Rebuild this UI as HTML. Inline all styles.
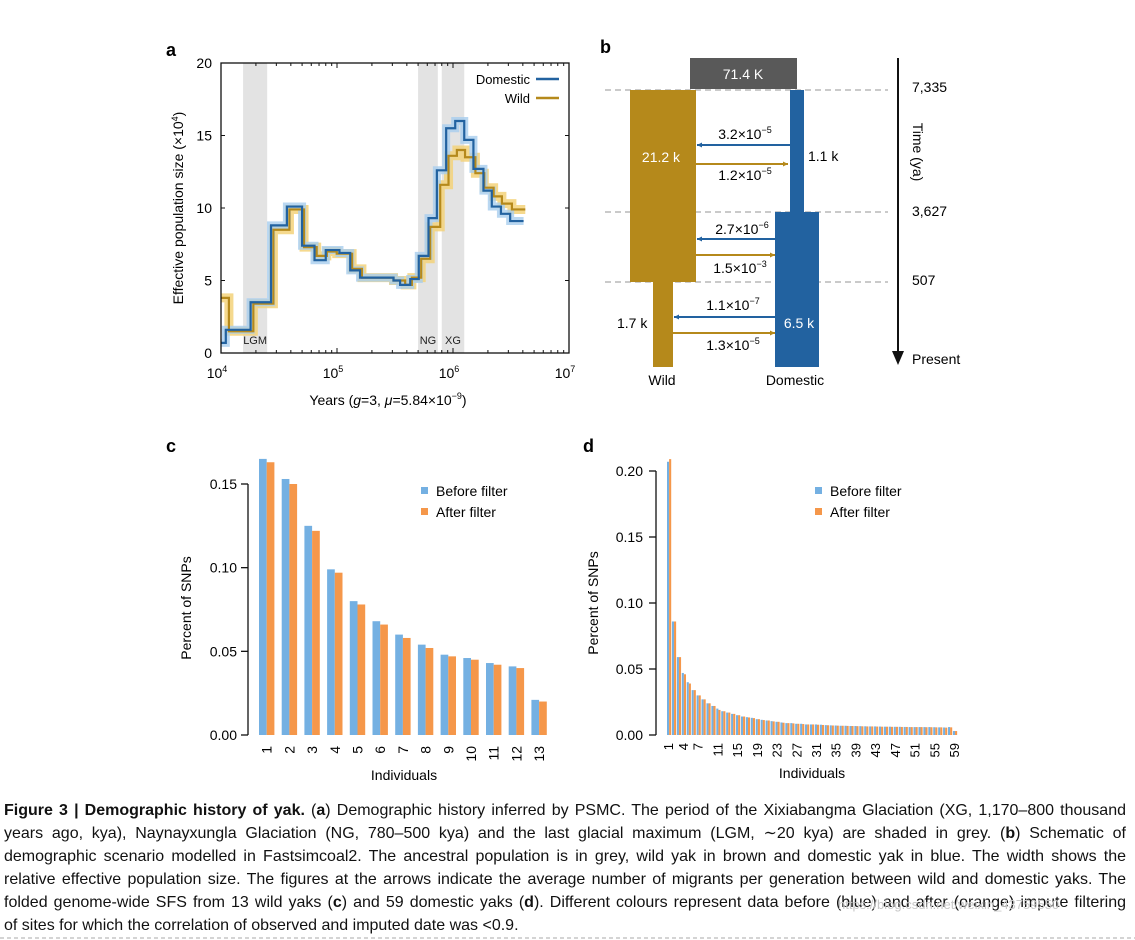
<!DOCTYPE html>
<html><head><meta charset="utf-8"><style>
body{margin:0;background:#fff;width:1135px;height:940px;overflow:hidden;position:relative;font-family:"Liberation Sans",sans-serif}
svg{position:absolute;left:0;top:0}
.cap{position:absolute;left:4px;width:1122px;font-size:16px;color:#111;text-align:justify;text-align-last:justify;white-space:nowrap;line-height:20px}
.cap.last{text-align-last:left}
</style></head><body>
<svg id="svg" width="1135" height="940" xmlns="http://www.w3.org/2000/svg" font-family="Liberation Sans, sans-serif">
<g id="pa"></g>
<g id="pb"></g>
<g id="pc"></g>
<g id="pd"></g>
<line x1="0" y1="938" x2="1135" y2="938" stroke="#aaa" stroke-dasharray="4,3"/>
</svg>
<div class="cap" style="top:801px"><b>Figure 3 | Demographic history of yak.</b> (<b>a</b>) Demographic history inferred by PSMC. The period of the Xixiabangma Glaciation (XG, 1,170–800 thousand</div>
<div class="cap" style="top:824px">years ago, kya), Naynayxungla Glaciation (NG, 780–500 kya) and the last glacial maximum (LGM, ∼20 kya) are shaded in grey. (<b>b</b>) Schematic of</div>
<div class="cap" style="top:847px">demographic scenario modelled in Fastsimcoal2. The ancestral population is in grey, wild yak in brown and domestic yak in blue. The width shows the</div>
<div class="cap" style="top:870px">relative effective population size. The figures at the arrows indicate the average number of migrants per generation between wild and domestic yaks. The</div>
<div class="cap" style="top:893px">folded genome-wide SFS from 13 wild yaks (<b>c</b>) and 59 domestic yaks (<b>d</b>). Different colours represent data before (blue) and after (orange) impute filtering</div>
<div class="cap last" style="top:916px">of sites for which the correlation of observed and imputed date was &lt;0.9.</div>
<div style="position:absolute;left:838px;top:897px;font-size:13px;color:#c8c8c8">https://blog.csdn.net/weixin_43759550</div>
<script>
const NS='http://www.w3.org/2000/svg';
// ---- Panel a data ----
const domYears=[10000,11000,18000,27000,37000,50000,64000,80000,105000,130000,158000,307000,350000,428000,507000,615000,726000,873000,1045000,1250000,1500000,1830000,2160000,2590000,3110000,4060000];
const domNe=[0.7,1.6,3.5,8.8,10.1,7.4,6.4,7.1,6.9,5.7,5.2,5.0,4.7,5.1,6.7,9.3,12.6,15.5,16.0,14.7,12.7,11.2,10.1,9.6,9.1];
const wildYears=[10000,11700,19000,28300,38900,52000,66800,81700,99500,135000,164000,307000,387000,442000,532000,636000,776000,915000,1080000,1270000,1560000,1860000,2240000,2640000,3220000,4200000];
const wildNe=[3.8,1.5,3.4,8.5,9.9,7.3,6.7,7.0,6.85,5.8,5.2,5.0,4.7,5.2,6.5,8.7,11.6,13.6,14.0,13.5,12.4,11.4,10.8,10.3,9.9];
const shadeStart=[15500,500000,800000];
const shadeEnd=[25000,740000,1250000];
const shadeLabels=['LGM','NG','XG'];
const aYTicks=[0,5,10,15,20];
const aXTicks=[4,5,6,7];
// ---- Panel c data ----
const cCats=['1','2','3','4','5','6','7','8','9','10','11','12','13'];
const cBefore=[0.165,0.153,0.125,0.099,0.080,0.068,0.060,0.054,0.048,0.046,0.043,0.041,0.021];
const cAfter=[0.163,0.150,0.122,0.097,0.078,0.066,0.058,0.052,0.047,0.045,0.042,0.040,0.020];
const cTicks=[0,0.05,0.10,0.15];
// ---- Panel d data ----
const dBefore=[0.207,0.086,0.059,0.047,0.040,0.034,0.030,0.027,0.024,0.022,0.020,0.018,0.017,0.016,0.015,0.014,0.0135,0.013,0.012,0.0115,0.011,0.0105,0.010,0.0095,0.009,0.009,0.0085,0.0085,0.008,0.008,0.008,0.0078,0.0075,0.0073,0.0072,0.007,0.007,0.0068,0.0068,0.0067,0.0066,0.0065,0.0065,0.0064,0.0063,0.0063,0.0062,0.0062,0.0061,0.006,0.006,0.006,0.006,0.006,0.0059,0.0058,0.0057,0.006,0.003];
const dAfter=[0.209,0.086,0.059,0.046,0.039,0.034,0.030,0.027,0.024,0.022,0.019,0.018,0.017,0.016,0.015,0.014,0.0133,0.0128,0.012,0.0113,0.011,0.0103,0.010,0.0093,0.009,0.0088,0.0085,0.0083,0.008,0.008,0.0078,0.0076,0.0074,0.0072,0.0071,0.007,0.0069,0.0068,0.0067,0.0066,0.0065,0.0065,0.0064,0.0063,0.0063,0.0062,0.0062,0.0061,0.0061,0.006,0.006,0.006,0.0059,0.0059,0.0058,0.0058,0.0056,0.0058,0.003];
const dLabels=['1','4','7','11','15','19','23','27','31','35','39','43','47','51','55','59'];
const dTicks=[0,0.05,0.10,0.15,0.20];

function mk(parent,tag,attrs,text){const e=document.createElementNS(NS,tag);for(const k in attrs)e.setAttribute(k,attrs[k]);if(text!==undefined)e.textContent=text;parent.appendChild(e);return e;}
const BLUE='#2262a0',BROWN='#b5891b',LBLUE='#74b0e2',LORANGE='#f5974a';

// ===== Panel a =====
(function(){
const g=document.getElementById('pa');
const X0=221,X1=569,Y0=353,Y1=63;
const xs=y=>X0+(Math.log10(y)-4)/3*(X1-X0);
const ys=v=>Y0-v/20*(Y0-Y1);
mk(g,'text',{x:166,y:56,'font-size':18,'font-weight':'bold'},'a');
for(let i=0;i<shadeStart.length;i++){
 const r=mk(g,'rect',{x:xs(shadeStart[i]),y:Y1,width:xs(shadeEnd[i])-xs(shadeStart[i]),height:Y0-Y1,fill:'#e3e3e3'});
 
 
 const t=mk(g,'text',{x:(xs(shadeStart[i])+xs(shadeEnd[i]))/2,y:344,'font-size':11,'text-anchor':'middle',fill:'#222'},shadeLabels[i]);
 
 
}
function stepPath(yrs,ne){let d='M'+xs(yrs[0])+','+ys(ne[0]);for(let i=0;i<ne.length;i++){d+=' H'+xs(yrs[i+1]);if(i+1<ne.length)d+=' V'+ys(ne[i+1]);}return d;}
const wb=mk(g,'path',{d:stepPath(wildYears,wildNe),fill:'none',stroke:'#f3d27a','stroke-width':9,opacity:0.85});

const db=mk(g,'path',{d:stepPath(domYears,domNe),fill:'none',stroke:'#a8cdee','stroke-width':8,opacity:0.8});

const wl=mk(g,'path',{d:stepPath(wildYears,wildNe),fill:'none',stroke:BROWN,'stroke-width':2.2});

const dl=mk(g,'path',{d:stepPath(domYears,domNe),fill:'none',stroke:BLUE,'stroke-width':2.2});

const fr=mk(g,'rect',{x:X0,y:Y1,width:X1-X0,height:Y0-Y1,fill:'none',stroke:'#111','stroke-width':1.3});

aYTicks.forEach(v=>{
 mk(g,'line',{x1:X0,x2:X0+4,y1:ys(v),y2:ys(v),stroke:'#111'});
 mk(g,'line',{x1:X1,x2:X1-4,y1:ys(v),y2:ys(v),stroke:'#111'});
 const t=mk(g,'text',{x:212,y:ys(v)+5,'font-size':14,'text-anchor':'end'},String(v));
 
});
for(let dec=4;dec<7;dec++)for(let m=1;m<10;m++){const x=xs(m*Math.pow(10,dec));const L=m===1?5:3;
 mk(g,'line',{x1:x,x2:x,y1:Y0,y2:Y0-L,stroke:'#111'});mk(g,'line',{x1:x,x2:x,y1:Y1,y2:Y1+L,stroke:'#111'});}
aXTicks.forEach(p=>{
 const t=mk(g,'text',{x:xs(Math.pow(10,p))-4,y:378,'font-size':14,'text-anchor':'middle'});
 
 mk(t,'tspan',{},'10');mk(t,'tspan',{dy:-6,'font-size':9},String(p));
});
const yl=mk(g,'text',{transform:'translate(183,208) rotate(-90)','font-size':14,'text-anchor':'middle'});

mk(yl,'tspan',{},'Effective population size (×10');mk(yl,'tspan',{dy:-5,'font-size':9},'4');mk(yl,'tspan',{dy:5},')');
const xl=mk(g,'text',{x:388,y:405,'font-size':14,'text-anchor':'middle'});

mk(xl,'tspan',{},'Years (');mk(xl,'tspan',{'font-style':'italic'},'g');mk(xl,'tspan',{},'=3, ');mk(xl,'tspan',{'font-style':'italic'},'μ');mk(xl,'tspan',{},'=5.84×10');mk(xl,'tspan',{dy:-6,'font-size':9},'−9');mk(xl,'tspan',{dy:6},')');
const l1=mk(g,'text',{x:530,y:84,'font-size':13,'text-anchor':'end'},'Domestic');
mk(g,'line',{x1:536,x2:559,y1:79,y2:79,stroke:BLUE,'stroke-width':2.5});
const l2=mk(g,'text',{x:530,y:103,'font-size':13,'text-anchor':'end'},'Wild');
mk(g,'line',{x1:536,x2:559,y1:98,y2:98,stroke:BROWN,'stroke-width':2.5});
})();

// ===== Panel b =====
(function(){
const g=document.getElementById('pb');
const T=(x,y,s,o)=>{const t=mk(g,'text',Object.assign({x:x,y:y,'font-size':14},o||{}),s);return t;};
T(600,53,'b',{'font-size':18,'font-weight':'bold'});
const anc=mk(g,'rect',{x:690,y:58,width:107,height:31,fill:'#595959'});
T(743,79,'71.4 K',{fill:'#fff','text-anchor':'middle'});
[90,212,282].forEach(y=>mk(g,'line',{x1:605,x2:888,y1:y,y2:y,stroke:'#aaa','stroke-dasharray':'6,4','stroke-width':1.2}));
const w1=mk(g,'rect',{x:630,y:90,width:66,height:192,fill:BROWN});
const w2=mk(g,'rect',{x:653,y:282,width:20,height:85,fill:BROWN});
const d1=mk(g,'rect',{x:790,y:90,width:14,height:122,fill:BLUE});
const d2=mk(g,'rect',{x:775,y:212,width:44,height:155,fill:BLUE});
function arr(x1,x2,y,c){mk(g,'line',{x1:x1,x2:x2,y1:y,y2:y,stroke:c,'stroke-width':2});const d=x2<x1?1:-1;mk(g,'path',{d:`M${x2},${y} l${d*5},-2.5 v5 z`,fill:c});}
arr(790,697,145,BLUE);arr(696,788,164,BROWN);arr(775,697,239,BLUE);arr(696,775,255,BROWN);arr(775,674,317,BLUE);arr(673,775,333,BROWN);
function sci(x,y,m,e){const t=T(x,y,m+'×10',{'text-anchor':'middle'});mk(t,'tspan',{dy:-6,'font-size':9},'−'+e);}
sci(745,139,'3.2','5');sci(745,180,'1.2','5');sci(742,234,'2.7','6');sci(740,273,'1.5','3');sci(733,310,'1.1','7');sci(733,350,'1.3','5');
T(661,162,'21.2 k',{fill:'#fff','text-anchor':'middle'});
T(808,161,'1.1 k');T(617,328,'1.7 k');T(799,328,'6.5 k',{fill:'#fff','text-anchor':'middle'});
T(662,385,'Wild',{'text-anchor':'middle'});T(795,385,'Domestic',{'text-anchor':'middle'});
mk(g,'line',{x1:898,x2:898,y1:58,y2:352,stroke:'#111','stroke-width':2});
mk(g,'path',{d:'M892,351 L904,351 L898,365 z',fill:'#111'});
T(912,92,'7,335');T(912,216,'3,627');T(912,285,'507');T(912,364,'Present');
T(913,152,'Time (ya)',{transform:'rotate(90 913 152)','text-anchor':'middle'});
})();

// ===== Panel c =====
(function(){
const g=document.getElementById('pc');
const AX=248,Y0=735,S=(735-484)/0.15,X0=259,STEP=22.7,BW=7.7;
const ys=v=>Y0-v*S;
mk(g,'text',{x:166,y:452,'font-size':18,'font-weight':'bold'},'c');
for(let i=0;i<cCats.length;i++){
 const x=X0+i*STEP;
 const b=mk(g,'rect',{x:x,y:ys(cBefore[i]),width:BW,height:cBefore[i]*S,fill:LBLUE});
 
 const a=mk(g,'rect',{x:x+BW,y:ys(cAfter[i]),width:BW,height:cAfter[i]*S,fill:LORANGE});
 
 const t=mk(g,'text',{transform:`translate(${x+BW+5},746) rotate(-90)`,'font-size':14,'text-anchor':'end'},cCats[i]);
 
}
mk(g,'line',{x1:AX,x2:AX,y1:ys(cTicks[cTicks.length-1]),y2:Y0,stroke:'#111','stroke-width':1.3});
cTicks.forEach(v=>{mk(g,'line',{x1:AX-7,x2:AX,y1:ys(v),y2:ys(v),stroke:'#111','stroke-width':1.3});
 const t=mk(g,'text',{x:237,y:ys(v)+5,'font-size':14,'text-anchor':'end'},v.toFixed(2));});
const yl=mk(g,'text',{transform:'translate(191,608) rotate(-90)','font-size':14,'text-anchor':'middle'},'Percent of SNPs');
const xl=mk(g,'text',{x:404,y:780,'font-size':14,'text-anchor':'middle'},'Individuals');
mk(g,'rect',{x:421,y:487,width:7,height:7,fill:LBLUE});mk(g,'text',{x:436,y:496,'font-size':14},'Before filter');
mk(g,'rect',{x:421,y:508,width:7,height:7,fill:LORANGE});mk(g,'text',{x:436,y:517,'font-size':14},'After filter');
})();

// ===== Panel d =====
(function(){
const g=document.getElementById('pd');
const AX=656,Y0=735,S=(735-471)/0.20,X0=667,STEP=4.93,BW=2.1;
const ys=v=>Y0-v*S;
mk(g,'text',{x:583,y:452,'font-size':18,'font-weight':'bold'},'d');
for(let i=0;i<dBefore.length;i++){
 const x=X0+i*STEP;
 const b=mk(g,'rect',{x:x,y:ys(dBefore[i]),width:BW,height:dBefore[i]*S,fill:LBLUE});
 
 const a=mk(g,'rect',{x:x+BW,y:ys(dAfter[i]),width:BW,height:dAfter[i]*S,fill:LORANGE});
 
}
dLabels.forEach(l=>{const i=parseInt(l)-1;const x=X0+i*STEP+BW+4;
 const t=mk(g,'text',{transform:`translate(${x},743) rotate(-90)`,'font-size':13,'text-anchor':'end'},l);
 });
mk(g,'line',{x1:AX,x2:AX,y1:ys(dTicks[dTicks.length-1]),y2:Y0,stroke:'#111','stroke-width':1.3});
dTicks.forEach(v=>{mk(g,'line',{x1:AX-7,x2:AX,y1:ys(v),y2:ys(v),stroke:'#111','stroke-width':1.3});
 const t=mk(g,'text',{x:643,y:ys(v)+5,'font-size':14,'text-anchor':'end'},v.toFixed(2));});
const yl=mk(g,'text',{transform:'translate(598,603) rotate(-90)','font-size':14,'text-anchor':'middle'},'Percent of SNPs');
const xl=mk(g,'text',{x:812,y:778,'font-size':14,'text-anchor':'middle'},'Individuals');
mk(g,'rect',{x:815,y:487,width:7,height:7,fill:LBLUE});mk(g,'text',{x:830,y:496,'font-size':14},'Before filter');
mk(g,'rect',{x:815,y:508,width:7,height:7,fill:LORANGE});mk(g,'text',{x:830,y:517,'font-size':14},'After filter');
})();
</script>
</body></html>
